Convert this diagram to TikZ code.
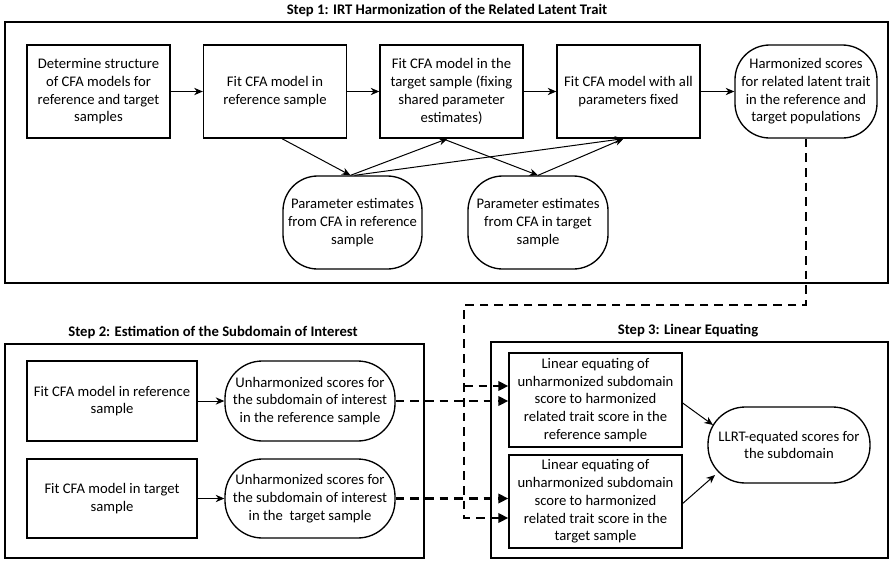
\documentclass[tikz,border=0pt]{standalone}
\usepackage{fontspec}
\setmainfont{Carlito}
\usetikzlibrary{arrows.meta,calc}
\begin{document}
\begin{tikzpicture}[x=0.75pt,y=-0.75pt,
  font=\fontsize{11}{13.3}\selectfont,
  box/.style={draw,line width=1pt,align=center,inner sep=2pt},
  rbox/.style={box,rounded corners=26pt},
  arr/.style={-{Stealth[length=6.5pt,width=5.5pt]},line width=0.75pt},
  darr/.style={line width=2.2pt,dash pattern=on 6.5pt off 4.5pt,-{Triangle[length=7.5pt,width=7pt]}},
  frame/.style={draw,line width=1pt},
  title/.style={font=\fontsize{11}{13}\selectfont\bfseries}]
\useasboundingbox (0,0) rectangle (893,565);
% frames
\draw[frame] (5,22) rectangle (888,283);
\draw[frame] (5,344) rectangle (424,558);
\draw[frame] (491,342) rectangle (888,558);
\node[title] (t1) at (447,10) {Step 1: IRT Harmonization of the Related Latent Trait};
\node[title] (t2) at (213,332) {Step 2: Estimation of the Subdomain of Interest};
\node[title] (t3) at (688,331) {Step 3: Linear Equating};
% step 1
\node[box,minimum width=107.25pt,minimum height=69.75pt] (A) at (98.5,91.5) {Determine structure\\of CFA models for\\reference and target\\samples};
\node[box,minimum width=107.25pt,minimum height=69.75pt] (B) at (275,91.5) {Fit CFA model in\\reference sample};
\node[box,minimum width=107.25pt,minimum height=69.75pt] (C) at (451.5,91.5) {Fit CFA model in the\\target sample (fixing\\shared parameter\\estimates)};
\node[box,minimum width=107.25pt,minimum height=69.75pt] (D) at (628.5,91.5) {Fit CFA model with all\\parameters fixed};
\node[rbox,minimum width=106.5pt,minimum height=69.75pt] (E) at (806,91.5) {Harmonized scores\\for related latent trait\\in the reference and\\target populations};
\node[rbox,minimum width=104.25pt,minimum height=69.75pt] (P1) at (352.5,222.5) {Parameter estimates\\from CFA in reference\\sample};
\node[rbox,minimum width=105pt,minimum height=69.75pt] (P2) at (538,222.5) {Parameter estimates\\from CFA in target\\sample};
\draw[arr] (A.east) -- (B.west);
\draw[arr] (B.east) -- (C.west);
\draw[arr] (C.east) -- (D.west);
\draw[arr] (D.east) -- (E.west);
\draw[arr] ($(B.south)+(7,0)$) -- ($(P1.north)+(-2,0)$);
\draw[arr] ($(P1.north)+(-2,0)$) -- ($(C.south)+(-4,0)$);
\draw[arr] ($(P1.north)+(2,0)$) -- ($(D.south)+(-5,0)$);
\draw[arr] ($(C.south)+(-9,0)$) -- (P2.north);
\draw[arr] (P2.north) -- ($(D.south)+(-5,0)$);
% step 2
\node[box,minimum width=127.5pt,minimum height=60pt] (F1) at (112,401) {Fit CFA model in reference\\sample};
\node[rbox,minimum width=127.5pt,minimum height=60pt,rounded corners=28pt] (U1) at (310,401) {Unharmonized scores for\\the subdomain of interest\\in the reference sample};
\node[box,minimum width=127.5pt,minimum height=59.25pt] (F2) at (112,498.5) {Fit CFA model in target\\sample};
\node[rbox,minimum width=127.5pt,minimum height=59.25pt,rounded corners=28pt] (U2) at (310,498.5) {Unharmonized scores for\\the subdomain of interest\\in the\ \ target sample};
\draw[arr] (F1.east) -- (U1.west);
\draw[arr] (F2.east) -- (U2.west);
% step 3
\node[box,minimum width=129.75pt,minimum height=70.5pt] (L1) at (595.5,400) {Linear equating of\\unharmonized subdomain\\score to harmonized\\related trait score in the\\reference sample};
\node[box,minimum width=129.75pt,minimum height=69.75pt] (L2) at (595.5,501.5) {Linear equating of\\unharmonized subdomain\\score to harmonized\\related trait score in the\\target sample};
\node[rbox,minimum width=121.5pt,minimum height=57pt,rounded corners=28pt] (R) at (789,445) {LLRT-equated scores for\\the subdomain};
\draw[arr] ($(L1.east)+(0,3)$) -- ($(R.center)+(-76,-20)$);
\draw[arr] ($(L2.east)+(0,2)$) -- ($(R.center)+(-74,30)$);
% dashed connectors
\coordinate (d1) at (807,305);
\coordinate (d2) at (464,305);
\coordinate (j1) at (464,386);
\coordinate (j2) at (464,518);
\draw[darr] (E.south) -- (E.south |- d1) -- (d2) -- (j2) -- (j2 -| L2.west);
\draw[darr] (j1) -- (j1 -| L1.west);
\draw[darr] (U1.east) -- (U1.east -| L1.west);
\draw[darr] (U2.east) -- (U2.east -| L2.west);
\end{tikzpicture}
\end{document}
